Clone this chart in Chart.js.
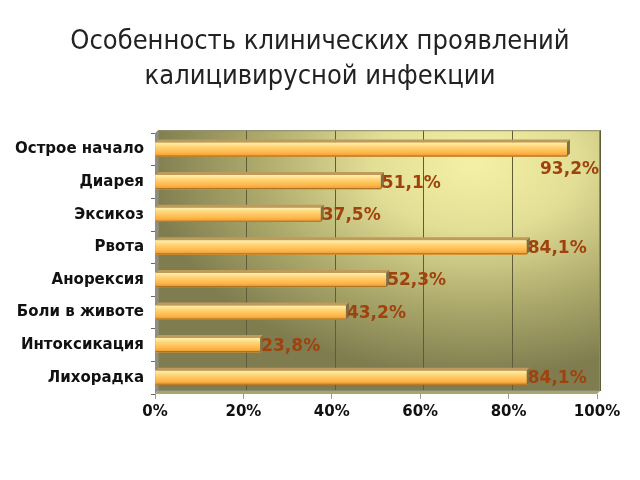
<!DOCTYPE html>
<html>
<head>
<meta charset="utf-8">
<script src="https://cdn.jsdelivr.net/npm/chart.js@4"></script>
<style>
  html, body { margin: 0; padding: 0; background: #fff; }
  #wrap { width: 640px; height: 480px; }
</style>
</head>
<body>
<div id="wrap"><canvas id="chart" width="640" height="480"></canvas></div>
<script>
// data
const categories = ['Острое начало', 'Диарея', 'Эксикоз', 'Рвота', 'Анорексия', 'Боли в животе', 'Интоксикация', 'Лихорадка'];
const values = [93.2, 51.1, 37.5, 84.1, 52.3, 43.2, 23.8, 84.1];
const xTickValues = [0, 20, 40, 60, 80, 100];
const titleLines = ['Особенность клинических проявлений', 'калицивирусной инфекции'];

const DEPTH = 3;
const BAR_H = 14;

function fmt(v) { return v.toFixed(1).replace('.', ',') + '%'; }

// back wall, side wall, floor and gridlines of the pseudo-3D plot
const wallPlugin = {
    id: 'wall',
    beforeDatasetsDraw(chart) {
        const { ctx, chartArea: a, scales } = chart;
        const d = DEPTH;
        ctx.save();
        ctx.beginPath();
        ctx.rect(a.left + d, a.top - d, a.right - a.left, a.bottom - a.top);
        ctx.clip();
        // elliptical light spot toward the upper right
        ctx.save();
        ctx.translate(475, 165);
        ctx.scale(1.55, 1);
        const g = ctx.createRadialGradient(0, 0, 5, 0, 0, 210);
        g.addColorStop(0, '#f3f0a4');
        g.addColorStop(0.3, '#e2de96');
        g.addColorStop(0.65, '#aeab6d');
        g.addColorStop(1, '#7f7d4f');
        ctx.fillStyle = g;
        ctx.fillRect(-400, -300, 800, 600);
        ctx.restore();
        ctx.restore();
        ctx.save();
        // gridlines on the back wall
        ctx.strokeStyle = '#5f5d39';
        ctx.lineWidth = 1;
        xTickValues.forEach(v => {
            if (v === 0) return;
            const x = Math.round(scales.x.getPixelForValue(v) + d) + 0.5;
            ctx.beginPath();
            ctx.moveTo(x, a.top - d);
            ctx.lineTo(x, a.bottom - d);
            ctx.stroke();
        });
        ctx.strokeStyle = '#8a8a6a';
        ctx.strokeRect(a.left + d + 0.5, a.top - d + 0.5, a.right - a.left - 1, a.bottom - a.top - 1);
        // left side wall
        ctx.fillStyle = '#8e8e86';
        ctx.beginPath();
        ctx.moveTo(a.left, a.top);
        ctx.lineTo(a.left + d, a.top - d);
        ctx.lineTo(a.left + d, a.bottom - d);
        ctx.lineTo(a.left, a.bottom);
        ctx.closePath();
        ctx.fill();
        // floor
        ctx.fillStyle = '#a8a66e';
        ctx.beginPath();
        ctx.moveTo(a.left, a.bottom);
        ctx.lineTo(a.left + d, a.bottom - d);
        ctx.lineTo(a.right + d, a.bottom - d);
        ctx.lineTo(a.right, a.bottom);
        ctx.closePath();
        ctx.fill();
        ctx.restore();
    },
    afterDatasetsDraw(chart) {
        const { ctx, chartArea: a } = chart;
        const d = DEPTH;
        const meta = chart.getDatasetMeta(0);
        ctx.save();
        meta.data.forEach((bar, i) => {
            const top = bar.y - bar.height / 2;
            const bot = bar.y + bar.height / 2;
            // top face
            ctx.fillStyle = '#bf9a58';
            ctx.beginPath();
            ctx.moveTo(bar.base, top);
            ctx.lineTo(bar.base + d, top - d);
            ctx.lineTo(bar.x + d, top - d);
            ctx.lineTo(bar.x, top);
            ctx.closePath();
            ctx.fill();
            // end cap
            ctx.fillStyle = '#806d42';
            ctx.beginPath();
            ctx.moveTo(bar.x, top);
            ctx.lineTo(bar.x + d, top - d);
            ctx.lineTo(bar.x + d, bot - d);
            ctx.lineTo(bar.x, bot);
            ctx.closePath();
            ctx.fill();
            // bottom edge
            ctx.strokeStyle = '#a86f25';
            ctx.beginPath();
            ctx.moveTo(bar.base, bot - 0.5);
            ctx.lineTo(bar.x, bot - 0.5);
            ctx.stroke();
        });
        // value labels
        ctx.font = 'bold 17px "DejaVu Sans"';
        ctx.fillStyle = '#a0420d';
        ctx.textBaseline = 'middle';
        meta.data.forEach((bar, i) => {
            const txt = fmt(values[i]);
            const w = ctx.measureText(txt).width;
            if (bar.x + w > a.right + 4) {
                ctx.textAlign = 'right';
                ctx.fillText(txt, a.right + 2, bar.y + 20);
            } else {
                ctx.textAlign = 'left';
                ctx.fillText(txt, bar.x + 1, bar.y + 1);
            }
        });
        ctx.restore();
    }
};

function barFill(c) {
    const chart = c.chart;
    const y = chart.scales.y;
    const cy = y ? y.getPixelForValue(c.dataIndex) : NaN;
    if (!isFinite(cy)) return '#ffc45a';
    const g = chart.ctx.createLinearGradient(0, cy - BAR_H / 2, 0, cy + BAR_H / 2);
    g.addColorStop(0, '#fff1b0');
    g.addColorStop(0.3, '#ffd577');
    g.addColorStop(0.7, '#ffb84c');
    g.addColorStop(1, '#eb9a31');
    return g;
}

new Chart(document.getElementById('chart'), {
    type: 'bar',
    data: {
        labels: categories,
        datasets: [{
            data: values,
            backgroundColor: barFill,
            borderWidth: 0,
            barThickness: BAR_H
        }]
    },
    options: {
        indexAxis: 'y',
        responsive: false,
        animation: false,
        layout: { padding: { left: 0, right: 0, top: 0, bottom: 40 } },
        plugins: {
            legend: { display: false },
            tooltip: { enabled: false },
            title: {
                display: true,
                text: titleLines,
                color: '#222',
                font: { family: '"DejaVu Sans Condensed", "DejaVu Sans"', size: 27, weight: 'normal', lineHeight: 1.3 },
                padding: { top: 24, bottom: 39 }
            }
        },
        scales: {
            x: {
                min: 0, max: 100,
                afterBuildTicks: s => { s.ticks = xTickValues.map(v => ({ value: v })); },
                afterFit: s => { s.height = 46; },
                grid: { drawOnChartArea: false, tickLength: 5, color: '#999' },
                border: { display: false },
                ticks: {
                    padding: 4,
                    color: '#111',
                    font: { family: 'DejaVu Sans', size: 15, weight: 'bold' },
                    callback: v => v + '%'
                }
            },
            y: {
                afterFit: s => { s.width = 155; },
                grid: { drawOnChartArea: false, offset: true, tickLength: 4, color: '#666' },
                border: { display: false },
                ticks: {
                    padding: 7,
                    color: '#111',
                    font: { family: 'DejaVu Sans', size: 15, weight: 'bold' }
                }
            },
            // empty right-hand margin so the title stays centred on the canvas
            yRight: {
                type: 'category',
                labels: categories,
                position: 'right',
                afterFit: s => { s.width = 43; },
                grid: { display: false },
                border: { display: false },
                ticks: { display: false }
            }
        }
    },
    plugins: [wallPlugin]
});
</script>
</body>
</html>
